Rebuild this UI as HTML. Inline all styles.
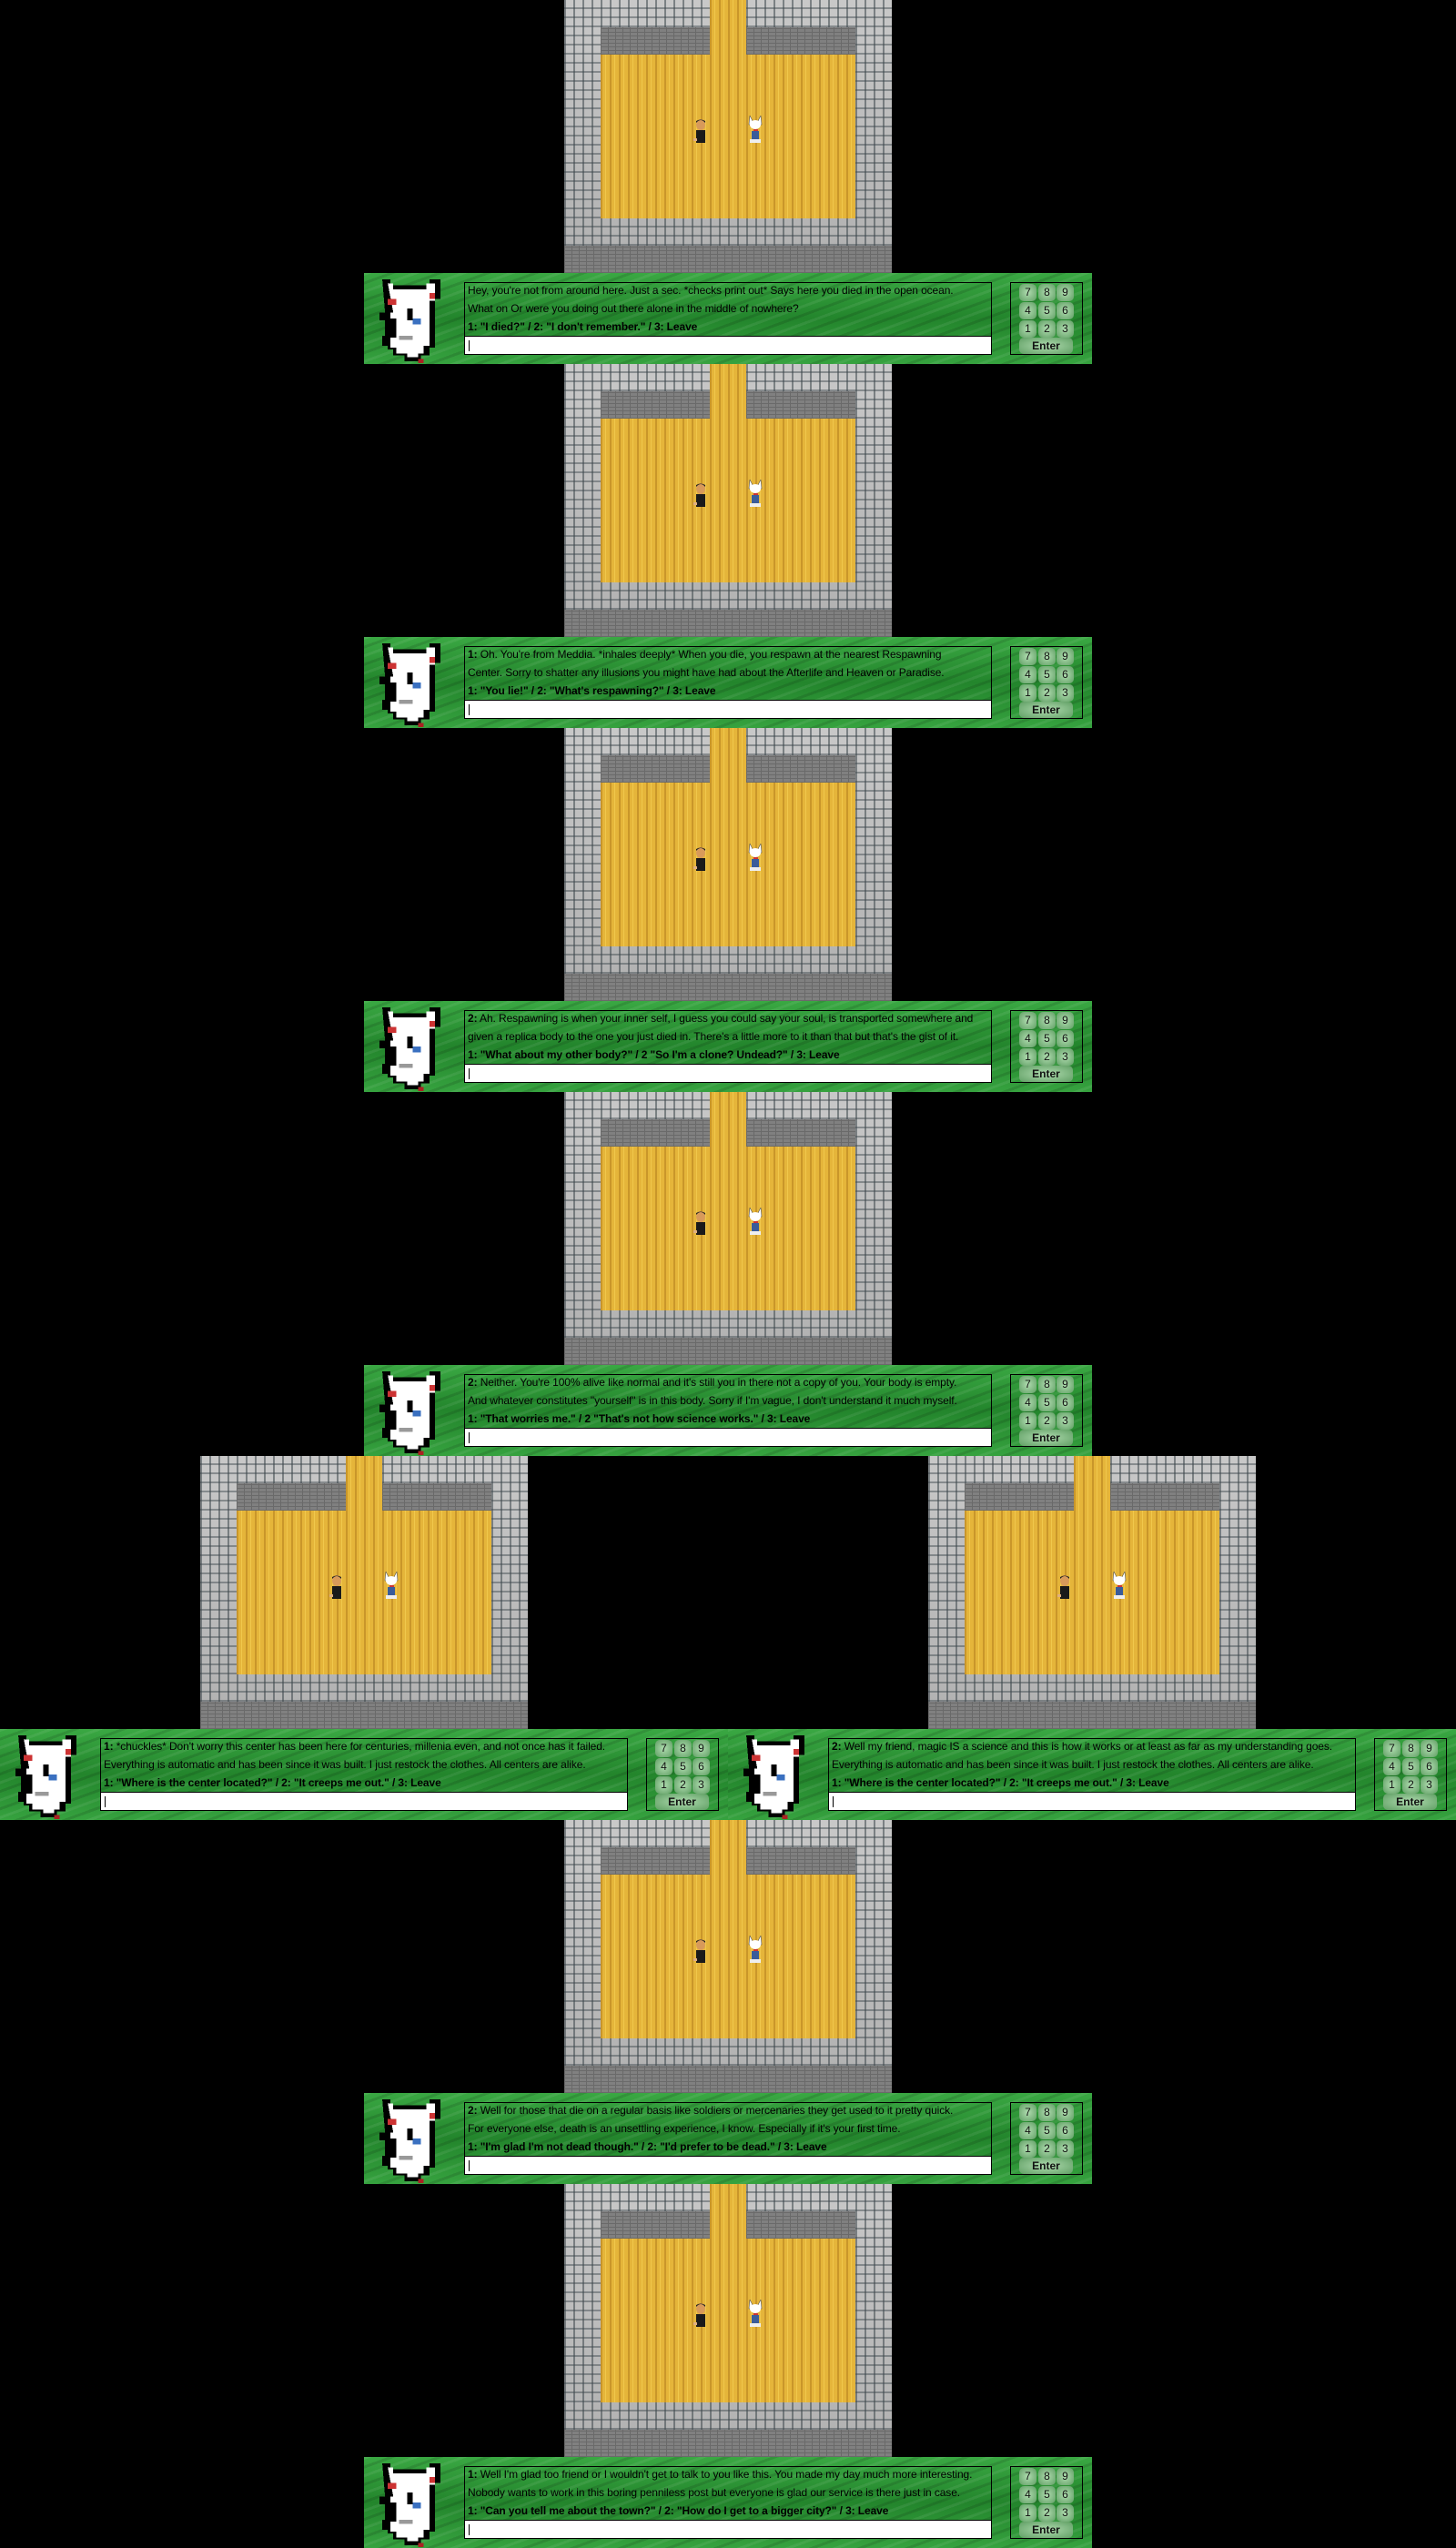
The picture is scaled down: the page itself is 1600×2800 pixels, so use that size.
<!DOCTYPE html>
<html><head><meta charset="utf-8"><style>
*{margin:0;padding:0;box-sizing:border-box}
body{width:1600px;height:2800px;background:#000;position:relative;overflow:hidden;font-family:"Liberation Sans",Arial,sans-serif}
.room{position:absolute;width:360px;height:300px;
background-color:#b9b9b9;
background-image:repeating-linear-gradient(90deg,rgba(60,70,75,.55) 0 2px,transparent 2px 10px),repeating-linear-gradient(0deg,rgba(70,80,85,.5) 0 2px,transparent 2px 10px),linear-gradient(#c8c8c8,#b0b0b0);}
.room .dk{position:absolute;background-color:#808080;background-image:repeating-linear-gradient(0deg,#6a6a6a 0 1px,transparent 1px 4px),repeating-linear-gradient(90deg,rgba(90,90,90,.6) 0 1px,transparent 1px 8px)}
.room .fl{position:absolute;background-color:#e5b53a;background-image:repeating-linear-gradient(90deg,#c9962a 0 2px,transparent 2px 5px,#f0c84c 5px 6px,transparent 6px 10px)}
.p{position:absolute;width:18px;height:27px}
.dlg{position:absolute;width:800px;height:100px;background-color:#2f9a38;
background-image:repeating-linear-gradient(160deg,rgba(255,255,255,.07) 0 3px,transparent 3px 9px,rgba(0,0,0,.12) 9px 12px,transparent 12px 18px),linear-gradient(180deg,#3aa843,#23852c 50%,#36a23f)}
.tb{position:absolute;left:110px;top:10px;width:580px;height:60px;border:1px solid #000}
.tb div{position:absolute;left:3px;font-size:12px;white-space:nowrap;color:#000;line-height:14px;letter-spacing:-0.1px}
.inp{position:absolute;left:110px;top:69px;width:580px;height:21px;background:#fff;border:1px solid #000}
.inp:after{content:"";position:absolute;left:4px;top:4px;width:1px;height:12px;background:#000}
.kp{position:absolute;left:710px;top:10px;width:80px;height:80px;border:1px solid #000}
.k{position:absolute;width:19px;height:19px;border-radius:5px;background:radial-gradient(#b0dcb0,#5f9e63);font-size:12px;text-align:center;line-height:19px;color:#111}
.ent{position:absolute;left:9px;top:60px;width:59px;height:18px;border-radius:5px;background:radial-gradient(#b0dcb0,#5f9e63);font-size:12px;text-align:center;line-height:18px;color:#111;font-weight:bold}
.por{position:absolute;left:14px;top:5px;width:76px;height:94px}
</style></head><body>

<div class="room" style="left:620px;top:0"><div class="dk" style="left:40px;top:30px;width:120px;height:30px"></div><div class="dk" style="left:200px;top:30px;width:120px;height:30px"></div><div class="fl" style="left:160px;top:0;width:40px;height:60px"></div><div class="fl" style="left:40px;top:60px;width:280px;height:180px"></div><div class="dk" style="left:0;top:270px;width:360px;height:30px"></div><svg class="p" style="left:141px;top:130px" viewBox="0 0 18 27"><ellipse cx="9" cy="7" rx="5" ry="6" fill="#d89a5a"/><path d="M4 5 Q9 -1 14 5 L14 3 Q9 0 4 3Z" fill="#222"/><rect x="4" y="13" width="10" height="14" fill="#1a1a1a"/><rect x="1" y="22" width="4" height="3" fill="#e0b080"/></svg><svg class="p" style="left:201px;top:127px;height:30px" viewBox="0 0 18 30"><path d="M3 0 L6 6 L12 6 L15 0 L16 10 L2 10Z" fill="#fff" stroke="#555" stroke-width=".6"/><ellipse cx="9" cy="10" rx="6" ry="5" fill="#fff"/><rect x="7" y="15" width="5" height="2" fill="#c33"/><rect x="5" y="17" width="8" height="10" fill="#3a5c9a"/><rect x="3" y="26" width="12" height="4" fill="#eee"/></svg></div>

<div class="room" style="left:620px;top:400px"><div class="dk" style="left:40px;top:30px;width:120px;height:30px"></div><div class="dk" style="left:200px;top:30px;width:120px;height:30px"></div><div class="fl" style="left:160px;top:0;width:40px;height:60px"></div><div class="fl" style="left:40px;top:60px;width:280px;height:180px"></div><div class="dk" style="left:0;top:270px;width:360px;height:30px"></div><svg class="p" style="left:141px;top:130px" viewBox="0 0 18 27"><ellipse cx="9" cy="7" rx="5" ry="6" fill="#d89a5a"/><path d="M4 5 Q9 -1 14 5 L14 3 Q9 0 4 3Z" fill="#222"/><rect x="4" y="13" width="10" height="14" fill="#1a1a1a"/><rect x="1" y="22" width="4" height="3" fill="#e0b080"/></svg><svg class="p" style="left:201px;top:127px;height:30px" viewBox="0 0 18 30"><path d="M3 0 L6 6 L12 6 L15 0 L16 10 L2 10Z" fill="#fff" stroke="#555" stroke-width=".6"/><ellipse cx="9" cy="10" rx="6" ry="5" fill="#fff"/><rect x="7" y="15" width="5" height="2" fill="#c33"/><rect x="5" y="17" width="8" height="10" fill="#3a5c9a"/><rect x="3" y="26" width="12" height="4" fill="#eee"/></svg></div>

<div class="room" style="left:620px;top:800px"><div class="dk" style="left:40px;top:30px;width:120px;height:30px"></div><div class="dk" style="left:200px;top:30px;width:120px;height:30px"></div><div class="fl" style="left:160px;top:0;width:40px;height:60px"></div><div class="fl" style="left:40px;top:60px;width:280px;height:180px"></div><div class="dk" style="left:0;top:270px;width:360px;height:30px"></div><svg class="p" style="left:141px;top:130px" viewBox="0 0 18 27"><ellipse cx="9" cy="7" rx="5" ry="6" fill="#d89a5a"/><path d="M4 5 Q9 -1 14 5 L14 3 Q9 0 4 3Z" fill="#222"/><rect x="4" y="13" width="10" height="14" fill="#1a1a1a"/><rect x="1" y="22" width="4" height="3" fill="#e0b080"/></svg><svg class="p" style="left:201px;top:127px;height:30px" viewBox="0 0 18 30"><path d="M3 0 L6 6 L12 6 L15 0 L16 10 L2 10Z" fill="#fff" stroke="#555" stroke-width=".6"/><ellipse cx="9" cy="10" rx="6" ry="5" fill="#fff"/><rect x="7" y="15" width="5" height="2" fill="#c33"/><rect x="5" y="17" width="8" height="10" fill="#3a5c9a"/><rect x="3" y="26" width="12" height="4" fill="#eee"/></svg></div>

<div class="room" style="left:620px;top:1200px"><div class="dk" style="left:40px;top:30px;width:120px;height:30px"></div><div class="dk" style="left:200px;top:30px;width:120px;height:30px"></div><div class="fl" style="left:160px;top:0;width:40px;height:60px"></div><div class="fl" style="left:40px;top:60px;width:280px;height:180px"></div><div class="dk" style="left:0;top:270px;width:360px;height:30px"></div><svg class="p" style="left:141px;top:130px" viewBox="0 0 18 27"><ellipse cx="9" cy="7" rx="5" ry="6" fill="#d89a5a"/><path d="M4 5 Q9 -1 14 5 L14 3 Q9 0 4 3Z" fill="#222"/><rect x="4" y="13" width="10" height="14" fill="#1a1a1a"/><rect x="1" y="22" width="4" height="3" fill="#e0b080"/></svg><svg class="p" style="left:201px;top:127px;height:30px" viewBox="0 0 18 30"><path d="M3 0 L6 6 L12 6 L15 0 L16 10 L2 10Z" fill="#fff" stroke="#555" stroke-width=".6"/><ellipse cx="9" cy="10" rx="6" ry="5" fill="#fff"/><rect x="7" y="15" width="5" height="2" fill="#c33"/><rect x="5" y="17" width="8" height="10" fill="#3a5c9a"/><rect x="3" y="26" width="12" height="4" fill="#eee"/></svg></div>

<div class="room" style="left:220px;top:1600px"><div class="dk" style="left:40px;top:30px;width:120px;height:30px"></div><div class="dk" style="left:200px;top:30px;width:120px;height:30px"></div><div class="fl" style="left:160px;top:0;width:40px;height:60px"></div><div class="fl" style="left:40px;top:60px;width:280px;height:180px"></div><div class="dk" style="left:0;top:270px;width:360px;height:30px"></div><svg class="p" style="left:141px;top:130px" viewBox="0 0 18 27"><ellipse cx="9" cy="7" rx="5" ry="6" fill="#d89a5a"/><path d="M4 5 Q9 -1 14 5 L14 3 Q9 0 4 3Z" fill="#222"/><rect x="4" y="13" width="10" height="14" fill="#1a1a1a"/><rect x="1" y="22" width="4" height="3" fill="#e0b080"/></svg><svg class="p" style="left:201px;top:127px;height:30px" viewBox="0 0 18 30"><path d="M3 0 L6 6 L12 6 L15 0 L16 10 L2 10Z" fill="#fff" stroke="#555" stroke-width=".6"/><ellipse cx="9" cy="10" rx="6" ry="5" fill="#fff"/><rect x="7" y="15" width="5" height="2" fill="#c33"/><rect x="5" y="17" width="8" height="10" fill="#3a5c9a"/><rect x="3" y="26" width="12" height="4" fill="#eee"/></svg></div>

<div class="room" style="left:1020px;top:1600px"><div class="dk" style="left:40px;top:30px;width:120px;height:30px"></div><div class="dk" style="left:200px;top:30px;width:120px;height:30px"></div><div class="fl" style="left:160px;top:0;width:40px;height:60px"></div><div class="fl" style="left:40px;top:60px;width:280px;height:180px"></div><div class="dk" style="left:0;top:270px;width:360px;height:30px"></div><svg class="p" style="left:141px;top:130px" viewBox="0 0 18 27"><ellipse cx="9" cy="7" rx="5" ry="6" fill="#d89a5a"/><path d="M4 5 Q9 -1 14 5 L14 3 Q9 0 4 3Z" fill="#222"/><rect x="4" y="13" width="10" height="14" fill="#1a1a1a"/><rect x="1" y="22" width="4" height="3" fill="#e0b080"/></svg><svg class="p" style="left:201px;top:127px;height:30px" viewBox="0 0 18 30"><path d="M3 0 L6 6 L12 6 L15 0 L16 10 L2 10Z" fill="#fff" stroke="#555" stroke-width=".6"/><ellipse cx="9" cy="10" rx="6" ry="5" fill="#fff"/><rect x="7" y="15" width="5" height="2" fill="#c33"/><rect x="5" y="17" width="8" height="10" fill="#3a5c9a"/><rect x="3" y="26" width="12" height="4" fill="#eee"/></svg></div>

<div class="room" style="left:620px;top:2000px"><div class="dk" style="left:40px;top:30px;width:120px;height:30px"></div><div class="dk" style="left:200px;top:30px;width:120px;height:30px"></div><div class="fl" style="left:160px;top:0;width:40px;height:60px"></div><div class="fl" style="left:40px;top:60px;width:280px;height:180px"></div><div class="dk" style="left:0;top:270px;width:360px;height:30px"></div><svg class="p" style="left:141px;top:130px" viewBox="0 0 18 27"><ellipse cx="9" cy="7" rx="5" ry="6" fill="#d89a5a"/><path d="M4 5 Q9 -1 14 5 L14 3 Q9 0 4 3Z" fill="#222"/><rect x="4" y="13" width="10" height="14" fill="#1a1a1a"/><rect x="1" y="22" width="4" height="3" fill="#e0b080"/></svg><svg class="p" style="left:201px;top:127px;height:30px" viewBox="0 0 18 30"><path d="M3 0 L6 6 L12 6 L15 0 L16 10 L2 10Z" fill="#fff" stroke="#555" stroke-width=".6"/><ellipse cx="9" cy="10" rx="6" ry="5" fill="#fff"/><rect x="7" y="15" width="5" height="2" fill="#c33"/><rect x="5" y="17" width="8" height="10" fill="#3a5c9a"/><rect x="3" y="26" width="12" height="4" fill="#eee"/></svg></div>

<div class="room" style="left:620px;top:2400px"><div class="dk" style="left:40px;top:30px;width:120px;height:30px"></div><div class="dk" style="left:200px;top:30px;width:120px;height:30px"></div><div class="fl" style="left:160px;top:0;width:40px;height:60px"></div><div class="fl" style="left:40px;top:60px;width:280px;height:180px"></div><div class="dk" style="left:0;top:270px;width:360px;height:30px"></div><svg class="p" style="left:141px;top:130px" viewBox="0 0 18 27"><ellipse cx="9" cy="7" rx="5" ry="6" fill="#d89a5a"/><path d="M4 5 Q9 -1 14 5 L14 3 Q9 0 4 3Z" fill="#222"/><rect x="4" y="13" width="10" height="14" fill="#1a1a1a"/><rect x="1" y="22" width="4" height="3" fill="#e0b080"/></svg><svg class="p" style="left:201px;top:127px;height:30px" viewBox="0 0 18 30"><path d="M3 0 L6 6 L12 6 L15 0 L16 10 L2 10Z" fill="#fff" stroke="#555" stroke-width=".6"/><ellipse cx="9" cy="10" rx="6" ry="5" fill="#fff"/><rect x="7" y="15" width="5" height="2" fill="#c33"/><rect x="5" y="17" width="8" height="10" fill="#3a5c9a"/><rect x="3" y="26" width="12" height="4" fill="#eee"/></svg></div>

<!-- dialogs -->
<div class="dlg" style="left:400px;top:300px">
<svg class="por" viewBox="0 0 50 88" preserveAspectRatio="none" shape-rendering="crispEdges"><path d="M4 2h6v6h28v-6h8v20h-4v50h-4v8h-6v6h-12v-6h-8v-6h-4v-4h-4v-10h2v-16h-4v-8h4z" fill="#000"/><path d="M8 6h4v6h24v-6h6v18h-4v46h-4v8h-4v4h-8v-4h-8v-6h-4v-10h4v-20h-4v-6h2z" fill="#fff"/><rect x="8" y="22" width="6" height="6" fill="#c33"/><rect x="38" y="16" width="4" height="6" fill="#c33"/><rect x="26" y="42" width="6" height="6" fill="#3a70c0"/><rect x="22" y="32" width="4" height="12" fill="#000"/><rect x="30" y="84" width="4" height="4" fill="#a22"/><rect x="16" y="60" width="10" height="4" fill="#999"/></svg>
<div class="tb"><div style="top:1px">Hey, you're not from around here. Just a sec. *checks print out* Says here you died in the open ocean.</div><div style="top:21px">What on Or were you doing out there alone in the middle of nowhere?</div><div style="top:41px;font-weight:bold">1: "I died?" / 2: "I don't remember." / 3: Leave</div></div>
<div class="inp"></div>
<div class="kp"><div class="k" style="left:9px;top:1px">7</div><div class="k" style="left:30px;top:1px">8</div><div class="k" style="left:50px;top:1px">9</div><div class="k" style="left:9px;top:21px">4</div><div class="k" style="left:30px;top:21px">5</div><div class="k" style="left:50px;top:21px">6</div><div class="k" style="left:9px;top:41px">1</div><div class="k" style="left:30px;top:41px">2</div><div class="k" style="left:50px;top:41px">3</div><div class="ent">Enter</div></div>
</div>

<div class="dlg" style="left:400px;top:700px">
<svg class="por" viewBox="0 0 50 88" preserveAspectRatio="none" shape-rendering="crispEdges"><path d="M4 2h6v6h28v-6h8v20h-4v50h-4v8h-6v6h-12v-6h-8v-6h-4v-4h-4v-10h2v-16h-4v-8h4z" fill="#000"/><path d="M8 6h4v6h24v-6h6v18h-4v46h-4v8h-4v4h-8v-4h-8v-6h-4v-10h4v-20h-4v-6h2z" fill="#fff"/><rect x="8" y="22" width="6" height="6" fill="#c33"/><rect x="38" y="16" width="4" height="6" fill="#c33"/><rect x="26" y="42" width="6" height="6" fill="#3a70c0"/><rect x="22" y="32" width="4" height="12" fill="#000"/><rect x="30" y="84" width="4" height="4" fill="#a22"/><rect x="16" y="60" width="10" height="4" fill="#999"/></svg>
<div class="tb"><div style="top:1px"><b>1:</b> Oh. You're from Meddia. *inhales deeply* When you die, you respawn at the nearest Respawning</div><div style="top:21px">Center. Sorry to shatter any illusions you might have had about the Afterlife and Heaven or Paradise.</div><div style="top:41px;font-weight:bold">1: "You lie!" / 2: "What's respawning?" / 3: Leave</div></div>
<div class="inp"></div>
<div class="kp"><div class="k" style="left:9px;top:1px">7</div><div class="k" style="left:30px;top:1px">8</div><div class="k" style="left:50px;top:1px">9</div><div class="k" style="left:9px;top:21px">4</div><div class="k" style="left:30px;top:21px">5</div><div class="k" style="left:50px;top:21px">6</div><div class="k" style="left:9px;top:41px">1</div><div class="k" style="left:30px;top:41px">2</div><div class="k" style="left:50px;top:41px">3</div><div class="ent">Enter</div></div>
</div>

<div class="dlg" style="left:400px;top:1100px">
<svg class="por" viewBox="0 0 50 88" preserveAspectRatio="none" shape-rendering="crispEdges"><path d="M4 2h6v6h28v-6h8v20h-4v50h-4v8h-6v6h-12v-6h-8v-6h-4v-4h-4v-10h2v-16h-4v-8h4z" fill="#000"/><path d="M8 6h4v6h24v-6h6v18h-4v46h-4v8h-4v4h-8v-4h-8v-6h-4v-10h4v-20h-4v-6h2z" fill="#fff"/><rect x="8" y="22" width="6" height="6" fill="#c33"/><rect x="38" y="16" width="4" height="6" fill="#c33"/><rect x="26" y="42" width="6" height="6" fill="#3a70c0"/><rect x="22" y="32" width="4" height="12" fill="#000"/><rect x="30" y="84" width="4" height="4" fill="#a22"/><rect x="16" y="60" width="10" height="4" fill="#999"/></svg>
<div class="tb"><div style="top:1px"><b>2:</b> Ah. Respawning is when your inner self, I guess you could say your soul, is transported somewhere and</div><div style="top:21px">given a replica body to the one you just died in. There's a little more to it than that but that's the gist of it.</div><div style="top:41px;font-weight:bold">1: "What about my other body?" / 2 "So I'm a clone? Undead?" / 3: Leave</div></div>
<div class="inp"></div>
<div class="kp"><div class="k" style="left:9px;top:1px">7</div><div class="k" style="left:30px;top:1px">8</div><div class="k" style="left:50px;top:1px">9</div><div class="k" style="left:9px;top:21px">4</div><div class="k" style="left:30px;top:21px">5</div><div class="k" style="left:50px;top:21px">6</div><div class="k" style="left:9px;top:41px">1</div><div class="k" style="left:30px;top:41px">2</div><div class="k" style="left:50px;top:41px">3</div><div class="ent">Enter</div></div>
</div>

<div class="dlg" style="left:400px;top:1500px">
<svg class="por" viewBox="0 0 50 88" preserveAspectRatio="none" shape-rendering="crispEdges"><path d="M4 2h6v6h28v-6h8v20h-4v50h-4v8h-6v6h-12v-6h-8v-6h-4v-4h-4v-10h2v-16h-4v-8h4z" fill="#000"/><path d="M8 6h4v6h24v-6h6v18h-4v46h-4v8h-4v4h-8v-4h-8v-6h-4v-10h4v-20h-4v-6h2z" fill="#fff"/><rect x="8" y="22" width="6" height="6" fill="#c33"/><rect x="38" y="16" width="4" height="6" fill="#c33"/><rect x="26" y="42" width="6" height="6" fill="#3a70c0"/><rect x="22" y="32" width="4" height="12" fill="#000"/><rect x="30" y="84" width="4" height="4" fill="#a22"/><rect x="16" y="60" width="10" height="4" fill="#999"/></svg>
<div class="tb"><div style="top:1px"><b>2:</b> Neither. You're 100% alive like normal and it's still you in there not a copy of you. Your body is empty.</div><div style="top:21px">And whatever constitutes "yourself" is in this body. Sorry if I'm vague, I don't understand it much myself.</div><div style="top:41px;font-weight:bold">1: "That worries me." / 2 "That's not how science works." / 3: Leave</div></div>
<div class="inp"></div>
<div class="kp"><div class="k" style="left:9px;top:1px">7</div><div class="k" style="left:30px;top:1px">8</div><div class="k" style="left:50px;top:1px">9</div><div class="k" style="left:9px;top:21px">4</div><div class="k" style="left:30px;top:21px">5</div><div class="k" style="left:50px;top:21px">6</div><div class="k" style="left:9px;top:41px">1</div><div class="k" style="left:30px;top:41px">2</div><div class="k" style="left:50px;top:41px">3</div><div class="ent">Enter</div></div>
</div>

<div class="dlg" style="left:0;top:1900px">
<svg class="por" viewBox="0 0 50 88" preserveAspectRatio="none" shape-rendering="crispEdges"><path d="M4 2h6v6h28v-6h8v20h-4v50h-4v8h-6v6h-12v-6h-8v-6h-4v-4h-4v-10h2v-16h-4v-8h4z" fill="#000"/><path d="M8 6h4v6h24v-6h6v18h-4v46h-4v8h-4v4h-8v-4h-8v-6h-4v-10h4v-20h-4v-6h2z" fill="#fff"/><rect x="8" y="22" width="6" height="6" fill="#c33"/><rect x="38" y="16" width="4" height="6" fill="#c33"/><rect x="26" y="42" width="6" height="6" fill="#3a70c0"/><rect x="22" y="32" width="4" height="12" fill="#000"/><rect x="30" y="84" width="4" height="4" fill="#a22"/><rect x="16" y="60" width="10" height="4" fill="#999"/></svg>
<div class="tb"><div style="top:1px"><b>1:</b> *chuckles* Don't worry this center has been here for centuries, millenia even, and not once has it failed.</div><div style="top:21px">Everything is automatic and has been since it was built. I just restock the clothes. All centers are alike.</div><div style="top:41px;font-weight:bold">1: "Where is the center located?" / 2: "It creeps me out." / 3: Leave</div></div>
<div class="inp"></div>
<div class="kp"><div class="k" style="left:9px;top:1px">7</div><div class="k" style="left:30px;top:1px">8</div><div class="k" style="left:50px;top:1px">9</div><div class="k" style="left:9px;top:21px">4</div><div class="k" style="left:30px;top:21px">5</div><div class="k" style="left:50px;top:21px">6</div><div class="k" style="left:9px;top:41px">1</div><div class="k" style="left:30px;top:41px">2</div><div class="k" style="left:50px;top:41px">3</div><div class="ent">Enter</div></div>
</div>

<div class="dlg" style="left:800px;top:1900px">
<svg class="por" viewBox="0 0 50 88" preserveAspectRatio="none" shape-rendering="crispEdges"><path d="M4 2h6v6h28v-6h8v20h-4v50h-4v8h-6v6h-12v-6h-8v-6h-4v-4h-4v-10h2v-16h-4v-8h4z" fill="#000"/><path d="M8 6h4v6h24v-6h6v18h-4v46h-4v8h-4v4h-8v-4h-8v-6h-4v-10h4v-20h-4v-6h2z" fill="#fff"/><rect x="8" y="22" width="6" height="6" fill="#c33"/><rect x="38" y="16" width="4" height="6" fill="#c33"/><rect x="26" y="42" width="6" height="6" fill="#3a70c0"/><rect x="22" y="32" width="4" height="12" fill="#000"/><rect x="30" y="84" width="4" height="4" fill="#a22"/><rect x="16" y="60" width="10" height="4" fill="#999"/></svg>
<div class="tb"><div style="top:1px"><b>2:</b> Well my friend, magic IS a science and this is how it works or at least as far as my understanding goes.</div><div style="top:21px">Everything is automatic and has been since it was built. I just restock the clothes. All centers are alike.</div><div style="top:41px;font-weight:bold">1: "Where is the center located?" / 2: "It creeps me out." / 3: Leave</div></div>
<div class="inp"></div>
<div class="kp"><div class="k" style="left:9px;top:1px">7</div><div class="k" style="left:30px;top:1px">8</div><div class="k" style="left:50px;top:1px">9</div><div class="k" style="left:9px;top:21px">4</div><div class="k" style="left:30px;top:21px">5</div><div class="k" style="left:50px;top:21px">6</div><div class="k" style="left:9px;top:41px">1</div><div class="k" style="left:30px;top:41px">2</div><div class="k" style="left:50px;top:41px">3</div><div class="ent">Enter</div></div>
</div>

<div class="dlg" style="left:400px;top:2300px">
<svg class="por" viewBox="0 0 50 88" preserveAspectRatio="none" shape-rendering="crispEdges"><path d="M4 2h6v6h28v-6h8v20h-4v50h-4v8h-6v6h-12v-6h-8v-6h-4v-4h-4v-10h2v-16h-4v-8h4z" fill="#000"/><path d="M8 6h4v6h24v-6h6v18h-4v46h-4v8h-4v4h-8v-4h-8v-6h-4v-10h4v-20h-4v-6h2z" fill="#fff"/><rect x="8" y="22" width="6" height="6" fill="#c33"/><rect x="38" y="16" width="4" height="6" fill="#c33"/><rect x="26" y="42" width="6" height="6" fill="#3a70c0"/><rect x="22" y="32" width="4" height="12" fill="#000"/><rect x="30" y="84" width="4" height="4" fill="#a22"/><rect x="16" y="60" width="10" height="4" fill="#999"/></svg>
<div class="tb"><div style="top:1px"><b>2:</b> Well for those that die on a regular basis like soldiers or mercenaries they get used to it pretty quick.</div><div style="top:21px">For everyone else, death is an unsettling experience, I know. Especially if it's your first time.</div><div style="top:41px;font-weight:bold">1: "I'm glad I'm not dead though." / 2: "I'd prefer to be dead." / 3: Leave</div></div>
<div class="inp"></div>
<div class="kp"><div class="k" style="left:9px;top:1px">7</div><div class="k" style="left:30px;top:1px">8</div><div class="k" style="left:50px;top:1px">9</div><div class="k" style="left:9px;top:21px">4</div><div class="k" style="left:30px;top:21px">5</div><div class="k" style="left:50px;top:21px">6</div><div class="k" style="left:9px;top:41px">1</div><div class="k" style="left:30px;top:41px">2</div><div class="k" style="left:50px;top:41px">3</div><div class="ent">Enter</div></div>
</div>

<div class="dlg" style="left:400px;top:2700px">
<svg class="por" viewBox="0 0 50 88" preserveAspectRatio="none" shape-rendering="crispEdges"><path d="M4 2h6v6h28v-6h8v20h-4v50h-4v8h-6v6h-12v-6h-8v-6h-4v-4h-4v-10h2v-16h-4v-8h4z" fill="#000"/><path d="M8 6h4v6h24v-6h6v18h-4v46h-4v8h-4v4h-8v-4h-8v-6h-4v-10h4v-20h-4v-6h2z" fill="#fff"/><rect x="8" y="22" width="6" height="6" fill="#c33"/><rect x="38" y="16" width="4" height="6" fill="#c33"/><rect x="26" y="42" width="6" height="6" fill="#3a70c0"/><rect x="22" y="32" width="4" height="12" fill="#000"/><rect x="30" y="84" width="4" height="4" fill="#a22"/><rect x="16" y="60" width="10" height="4" fill="#999"/></svg>
<div class="tb"><div style="top:1px"><b>1:</b> Well I'm glad too friend or I wouldn't get to talk to you like this. You made my day much more interesting.</div><div style="top:21px">Nobody wants to work in this boring penniless post but everyone is glad our service is there just in case.</div><div style="top:41px;font-weight:bold">1: "Can you tell me about the town?" / 2: "How do I get to a bigger city?" / 3: Leave</div></div>
<div class="inp"></div>
<div class="kp"><div class="k" style="left:9px;top:1px">7</div><div class="k" style="left:30px;top:1px">8</div><div class="k" style="left:50px;top:1px">9</div><div class="k" style="left:9px;top:21px">4</div><div class="k" style="left:30px;top:21px">5</div><div class="k" style="left:50px;top:21px">6</div><div class="k" style="left:9px;top:41px">1</div><div class="k" style="left:30px;top:41px">2</div><div class="k" style="left:50px;top:41px">3</div><div class="ent">Enter</div></div>
</div>

</body></html>
